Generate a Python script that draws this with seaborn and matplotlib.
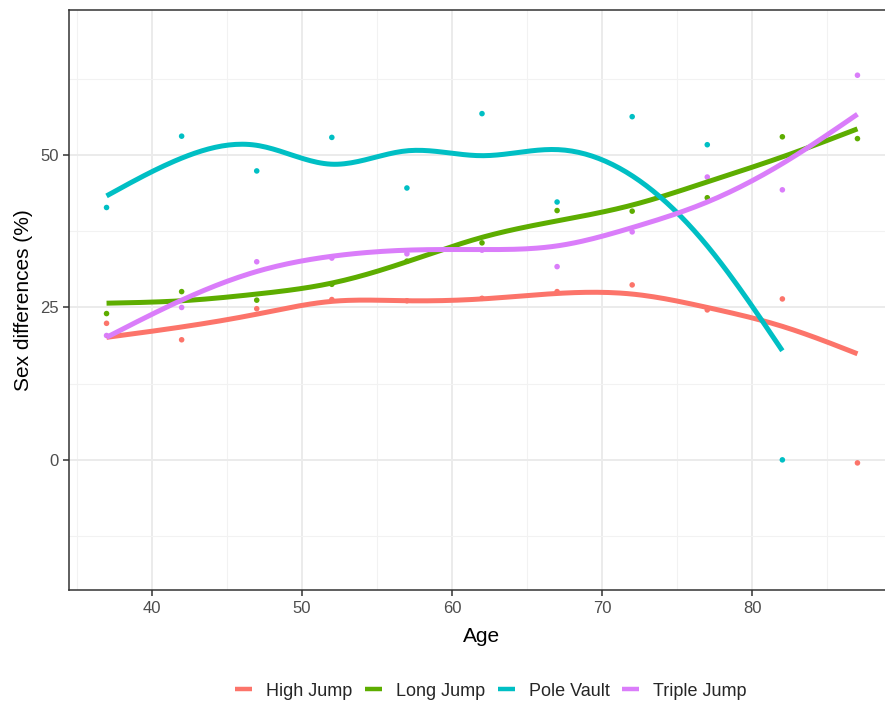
import numpy as np
import pandas as pd
import matplotlib
matplotlib.use("Agg")
import matplotlib.pyplot as plt
from matplotlib.lines import Line2D
import seaborn as sns

# ---- data ----
ages = [37, 42, 47, 52, 57, 62, 67, 72, 77, 82, 87]
events = ["High Jump", "Long Jump", "Pole Vault", "Triple Jump"]
colors = ["#FC746A", "#5DAD00", "#00BFC4", "#DA7DFA"]

# observed points
high_jump = [22.4, 19.7, 24.8, 26.3, 26.1, 26.5, 27.6, 28.7, 24.6, 26.4, -0.5]
long_jump = [24.0, 27.6, 26.2, 28.8, 32.6, 35.6, 40.9, 40.8, 43.0, 53.0, 52.7]
pole_vault = [41.4, 53.1, 47.4, 52.9, 44.6, 56.8, 42.3, 56.3, 51.7, 0.0]
triple_jump = [20.4, 25.0, 32.5, 33.1, 33.8, 34.4, 31.7, 37.4, 46.4, 44.3, 63.1]

# smoothed (loess) trend values, read at each age
high_jump_fit = [20.1, 21.8, 23.9, 26.0, 26.1, 26.4, 27.3, 27.2, 25.0, 21.9, 17.4]
long_jump_fit = [25.7, 26.1, 27.2, 29.0, 32.5, 36.5, 39.2, 41.8, 45.6, 49.7, 54.3]
pole_vault_fit = [43.3, 49.5, 51.6, 48.5, 50.7, 49.9, 50.9, 46.6, 35.1, 17.9]
triple_jump_fit = [20.1, 26.2, 30.9, 33.4, 34.4, 34.5, 35.1, 38.1, 42.3, 48.6, 56.7]

points = {"High Jump": high_jump, "Long Jump": long_jump,
          "Pole Vault": pole_vault, "Triple Jump": triple_jump}
fits = {"High Jump": high_jump_fit, "Long Jump": long_jump_fit,
        "Pole Vault": pole_vault_fit, "Triple Jump": triple_jump_fit}

rows = []
for ev, vals in points.items():
    for a, v in zip(ages, vals):
        rows.append({"Age": a, "Value": v, "Event": ev})
df = pd.DataFrame(rows)


def natural_spline(x, y, xs):
    x = np.asarray(x, float)
    y = np.asarray(y, float)
    n = len(x)
    h = np.diff(x)
    A = np.zeros((n, n))
    r = np.zeros(n)
    A[0, 0] = 1.0
    A[-1, -1] = 1.0
    for i in range(1, n - 1):
        A[i, i - 1] = h[i - 1]
        A[i, i] = 2 * (h[i - 1] + h[i])
        A[i, i + 1] = h[i]
        r[i] = 3 * ((y[i + 1] - y[i]) / h[i] - (y[i] - y[i - 1]) / h[i - 1])
    c = np.linalg.solve(A, r)
    b = (y[1:] - y[:-1]) / h - h * (2 * c[:-1] + c[1:]) / 3
    d = (c[1:] - c[:-1]) / (3 * h)
    idx = np.clip(np.searchsorted(x, xs, side="right") - 1, 0, n - 2)
    t = xs - x[idx]
    return y[idx] + b[idx] * t + c[idx] * t ** 2 + d[idx] * t ** 3


smooth_rows = []
for ev in events:
    fv = fits[ev]
    ax_ = np.array(ages[:len(fv)], float)
    xs = np.linspace(ax_.min(), ax_.max(), 200)
    ys = natural_spline(ax_, fv, xs)
    for a, v in zip(xs, ys):
        smooth_rows.append({"Age": a, "Value": v, "Event": ev})
sm = pd.DataFrame(smooth_rows)

# ---- plotting ----
sns.set_theme(style="white")
plt.rcParams["font.family"] = ["Liberation Sans", "DejaVu Sans"]

fig = plt.figure(figsize=(8.85, 7.04), dpi=100)
ax = fig.add_axes([69 / 885, 1 - 590.3 / 704, 826 / 885, 580.3 / 704])

palette = dict(zip(events, colors))
sns.scatterplot(data=df, x="Age", y="Value", hue="Event", hue_order=events,
                palette=palette, s=16, linewidth=0, ax=ax, legend=False, zorder=3)
sns.lineplot(data=sm, x="Age", y="Value", hue="Event", hue_order=events,
             palette=palette, linewidth=3.6, ax=ax, legend=False, zorder=4,
             solid_capstyle="butt", sort=False)

ax.set_xlim(34.5, 89.5)
ax.set_ylim(-21.4, 73.8)
ax.set_xticks([40, 50, 60, 70, 80])
ax.set_xticks([35, 45, 55, 65, 75, 85], minor=True)
ax.set_yticks([0, 25, 50])
ax.set_yticks([-12.5, 12.5, 37.5, 62.5], minor=True)
ax.grid(True, which="major", color="#EBEBEB", linewidth=1.4, zorder=0)
ax.grid(True, which="minor", color="#F2F2F2", linewidth=0.8, zorder=0)
ax.set_axisbelow(True)
for s in ax.spines.values():
    s.set_color("#333333")
    s.set_linewidth(1.1)
ax.tick_params(axis="both", which="major", length=4.5, width=1.1, color="#333333",
               labelsize=12, labelcolor="#4D4D4D", pad=3, left=True, bottom=True)
ax.tick_params(axis="both", which="minor", length=0)

ax.set_xlabel("Age", fontsize=15, color="black", labelpad=8)
ax.set_ylabel("Sex differences (%)", fontsize=15, color="black", labelpad=5)

handles = [Line2D([0], [0], color=c, linewidth=3.2, solid_capstyle="butt") for c in colors]
fig.legend(handles, events, loc="center", bbox_to_anchor=(491 / 885, 1 - 691 / 704),
           ncol=4, frameon=False, fontsize=13, handlelength=0.94,
           handletextpad=0.78, columnspacing=0.7, borderpad=0, borderaxespad=0)

fig.savefig("out.png", dpi=100)
